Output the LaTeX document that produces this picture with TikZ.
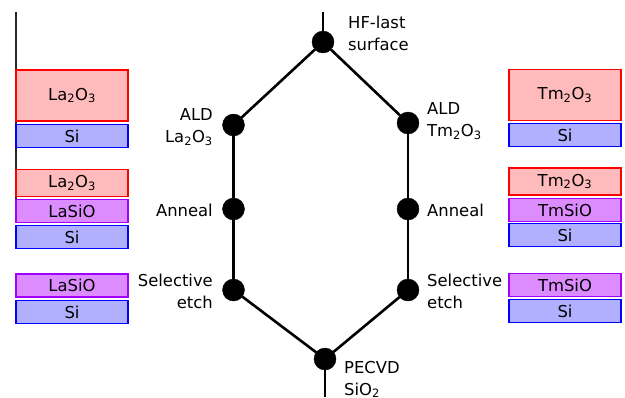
\documentclass[tikz,border=0pt]{standalone}
\usepackage{fontspec}
\setmainfont{DejaVu Sans}
\usepackage{tikz}
\usetikzlibrary{positioning}

\definecolor{oxfill}{RGB}{255,187,187}
\definecolor{sifill}{RGB}{176,176,255}
\definecolor{silfill}{RGB}{221,140,255}
\definecolor{silline}{RGB}{160,0,255}

\newcommand{\ox}[1]{#1\textsubscript{2}O\textsubscript{3}}

\begin{document}
\begin{tikzpicture}[
                x=1pt, y=-1pt,
                every node/.style = {font=\fontsize{16.4}{22}\selectfont},
                stepdot/.style = {
                    draw,
                    circle,
                    fill,
                    minimum size = 22pt,
                    inner sep = 0pt,
                    outer sep = 0pt
                },
                stepname/.style = {inner sep=0pt, align=#1},
                stepname/.default = left,
                layer/.style = {
                    draw,
                    line width = 1.6pt,
                    minimum width = 112pt,
                    minimum height = #1,
                    inner sep = 0pt
                },
                layer/.default = 23pt,
                oxlayer/.style = {layer=#1, draw=red, fill=oxfill},
                oxlayer/.default = 27pt,
                silayer/.style = {layer, draw=blue, fill=sifill},
                sillayer/.style = {layer, draw=silline, fill=silfill},
                flow/.style = {line width = 2.6pt}
            ]
            \useasboundingbox (0,0) rectangle (625,397);

            % left edge
            \coordinate (edgetop) at (16,12);
            \coordinate (edgebot) at (16,206);
            \draw[line width=1.2pt, black!85] (edgetop) -- (edgebot);

            % process steps
            \node[stepdot] (hf) at (323,42) {};
            \node[stepdot] (ald1) at (233.5,125) {};
            \node[stepdot] (ald2) at (408,123) {};
            \node[stepdot] (ann1) at (233.5,209) {};
            \node[stepdot] (ann2) at (408,209) {};
            \node[stepdot] (etch1) at (233.5,290) {};
            \node[stepdot] (etch2) at (408,290) {};
            \node[stepdot] (pecvd) at (325,359) {};

            \coordinate (start) at (323,12);
            \coordinate (finish) at (325,397);

            \draw[flow] (start) -- (hf);
            \draw[flow] (hf) -- (ald1);
            \draw[flow] (hf) -- (ald2);
            \draw[flow] (ald1) -- (ann1);
            \draw[flow] (ald2) -- (ann2);
            \draw[flow] (ann1) -- (etch1);
            \draw[flow] (ann2) -- (etch2);
            \draw[flow] (etch1) -- (pecvd);
            \draw[flow] (etch2) -- (pecvd);
            \draw[flow] (pecvd) -- (finish);

            % step names
            \node[stepname, anchor=west] (hfname) at (348,33) {HF-last\\surface};
            \node[stepname=right, anchor=east] (ald1name) at (213,127) {ALD\\\ox{La}};
            \node[stepname, anchor=west] (ald2name) at (427,121) {ALD\\\ox{Tm}};
            \node[stepname=right, anchor=east] (ann1name) at (213,210) {Anneal};
            \node[stepname, anchor=west] (ann2name) at (427,210) {Anneal};
            \node[stepname=right, anchor=east] (etch1name) at (213,291) {Selective\\etch};
            \node[stepname, anchor=west] (etch2name) at (427,291) {Selective\\etch};
            \node[stepname, anchor=north west] (pecvdname) at (344,361) {PECVD\\SiO\textsubscript{2}};

            % La stacks
            \node[oxlayer=51pt] (la1ox) at (72,95.5) {\ox{La}};
            \node[silayer] (la1si) at (72,136) {Si};

            \node[oxlayer] (la2ox) at (72,183) {\ox{La}};
            \node[sillayer] (la2sil) at (72,211) {LaSiO};
            \node[silayer] (la2si) at (72,237) {Si};

            \node[sillayer] (la3sil) at (72,285.5) {LaSiO};
            \node[silayer] (la3si) at (72,312) {Si};

            % Tm stacks
            \node[oxlayer=51pt] (tm1ox) at (565,95) {\ox{Tm}};
            \node[silayer] (tm1si) at (565,135) {Si};

            \node[oxlayer] (tm2ox) at (565,181.5) {\ox{Tm}};
            \node[sillayer] (tm2sil) at (565,210) {TmSiO};
            \node[silayer] (tm2si) at (565,235) {Si};

            \node[sillayer] (tm3sil) at (565,285) {TmSiO};
            \node[silayer] (tm3si) at (565,311) {Si};

         \end{tikzpicture}
\end{document}
